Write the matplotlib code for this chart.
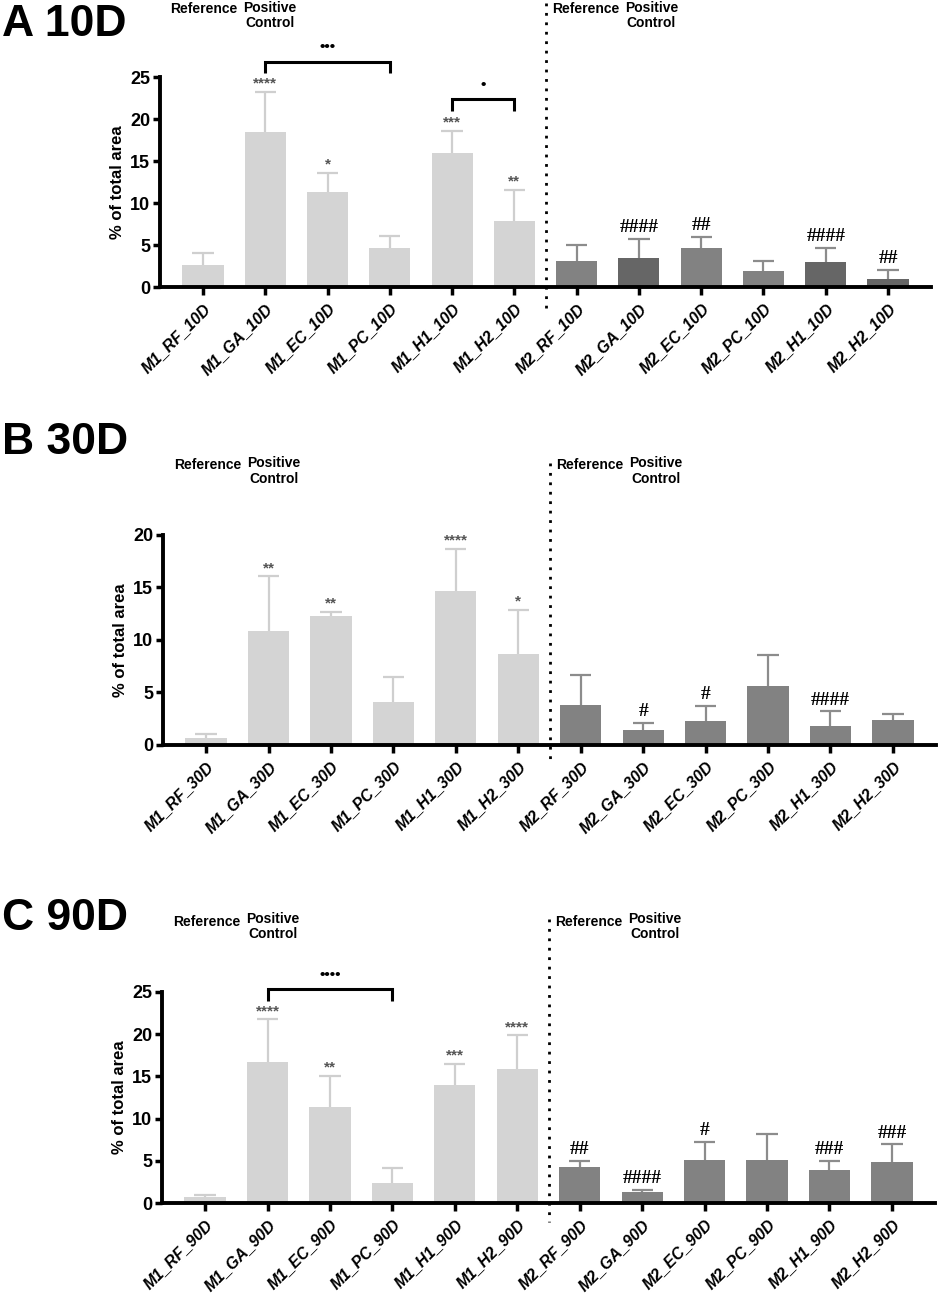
import matplotlib
matplotlib.use('Agg')
import matplotlib.pyplot as plt
import matplotlib.transforms as mtransforms
import numpy as np

plt.rcParams['font.family'] = ['Liberation Sans', 'DejaVu Sans']

# ---- data ----
labels_10 = ['M1_RF_10D', 'M1_GA_10D', 'M1_EC_10D', 'M1_PC_10D', 'M1_H1_10D', 'M1_H2_10D',
             'M2_RF_10D', 'M2_GA_10D', 'M2_EC_10D', 'M2_PC_10D', 'M2_H1_10D', 'M2_H2_10D']
mean_10 = [2.65, 18.4, 11.3, 4.6, 16.0, 7.8, 3.05, 3.45, 4.65, 1.95, 2.95, 1.0]
top_10 = [4.05, 23.2, 13.6, 6.05, 18.6, 11.6, 4.95, 5.7, 6.0, 3.15, 4.65, 2.0]
sig_10 = ['', '****', '*', '', '***', '**', '', '####', '##', '', '####', '##']

labels_30 = ['M1_RF_30D', 'M1_GA_30D', 'M1_EC_30D', 'M1_PC_30D', 'M1_H1_30D', 'M1_H2_30D',
             'M2_RF_30D', 'M2_GA_30D', 'M2_EC_30D', 'M2_PC_30D', 'M2_H1_30D', 'M2_H2_30D']
mean_30 = [0.63, 10.85, 12.25, 4.1, 14.7, 8.7, 3.85, 1.4, 2.25, 5.6, 1.8, 2.35]
top_30 = [1.0, 16.05, 12.65, 6.5, 18.65, 12.9, 6.7, 2.1, 3.7, 8.55, 3.2, 2.95]
sig_30 = ['', '**', '**', '', '****', '*', '', '#', '#', '', '####', '']

labels_90 = ['M1_RF_90D', 'M1_GA_90D', 'M1_EC_90D', 'M1_PC_90D', 'M1_H1_90D', 'M1_H2_90D',
             'M2_RF_90D', 'M2_GA_90D', 'M2_EC_90D', 'M2_PC_90D', 'M2_H1_90D', 'M2_H2_90D']
mean_90 = [0.67, 16.7, 11.35, 2.35, 14.0, 15.85, 4.25, 1.3, 5.15, 5.05, 3.95, 4.8]
top_90 = [0.95, 21.75, 15.05, 4.1, 16.5, 19.85, 5.0, 1.55, 7.2, 8.15, 5.0, 6.95]
sig_90 = ['', '****', '**', '', '***', '****', '##', '####', '#', '', '###', '###']

# brackets: (left bar, right bar, height, label)
brackets_10 = [(1, 3, 26.8, '•••'), (4, 5, 22.35, '•')]
brackets_30 = []
brackets_90 = [(1, 3, 25.3, '••••')]

LIGHT = '#d4d4d4'
MID = '#828282'
DARK = '#666666'
colors_10 = [LIGHT] * 6 + [MID, DARK, MID, MID, DARK, DARK]
colors_30 = [LIGHT] * 6 + [MID] * 6
colors_90 = [LIGHT] * 6 + [MID] * 6


def draw_panel(ax, labels, means, tops, sigs, colors, brackets, ymax, dot_top, dot_bot, head_y):
    x = np.arange(len(labels))
    means = np.array(means)
    tops = np.array(tops)
    ax.bar(x, means, width=0.66, color=colors, edgecolor='none', zorder=2)
    err_cols = ['#cfcfcf'] * 6 + ['#8c8c8c'] * 6
    # upper error bars only
    ax.vlines(x, means, tops, colors=err_cols, lw=1.6, zorder=1)
    ax.hlines(tops, x - 0.17, x + 0.17, colors=err_cols, lw=1.6, zorder=1)
    for i, s in enumerate(sigs):
        if not s:
            continue
        if s.startswith('#'):
            ax.annotate(s, (x[i], tops[i]), xytext=(0, 2), textcoords='offset points',
                        ha='center', va='bottom', fontsize=14, fontweight='bold',
                        family=['Liberation Serif', 'DejaVu Serif'], color='black')
        else:
            ax.annotate(s, (x[i], tops[i]), xytext=(0, 6), textcoords='offset points',
                        ha='center', va='center', fontsize=11, fontweight='bold', color='#555555')
    drop = ymax * 0.055
    for a, b, h, txt in brackets:
        ax.plot([a, a, b, b], [h - drop, h, h, h - drop], color='black', lw=2.2,
                clip_on=False, solid_capstyle='butt', solid_joinstyle='miter')
        ax.text((a + b) / 2, h + ymax * 0.07, txt, ha='center', va='center',
                fontsize=11, fontweight='bold', color='black')

    ax.set_xlim(-0.69, 11.69)
    ax.set_ylim(0, ymax)
    ax.set_yticks(np.arange(0, ymax + 1, 5))
    ax.set_xticks(x)
    ax.set_xticklabels(labels, rotation=45, ha='right', rotation_mode='anchor',
                       fontsize=11.5, fontweight='bold', fontstyle='italic')
    for lab in ax.get_yticklabels():
        lab.set_fontweight('bold')
    ax.tick_params(axis='y', labelsize=13, width=2.5, length=5, pad=2)
    ax.tick_params(axis='x', width=2.5, length=6, pad=4)
    for sp in ['top', 'right']:
        ax.spines[sp].set_visible(False)
    for sp in ['left', 'bottom']:
        ax.spines[sp].set_linewidth(2.8)
    ax.set_ylabel('% of total area', fontsize=12, fontweight='bold', labelpad=4)

    # dotted separator between the two groups
    trans = mtransforms.blended_transform_factory(ax.transData, ax.transAxes)
    ax.plot([5.5, 5.5], [dot_top, dot_bot], transform=trans, color='black', lw=2,
            linestyle=(0, (1, 2.4)), clip_on=False)

    # group headers
    y_ref, y_pos, y_ctl = head_y
    for xh in [0.02, 6.15]:
        ax.text(xh, y_ref, 'Reference', transform=trans, ha='center', va='center',
                fontsize=10, fontweight='bold')
    for xh in [1.08, 7.2]:
        ax.text(xh, y_pos, 'Positive', transform=trans, ha='center', va='center',
                fontsize=10, fontweight='bold')
        ax.text(xh, y_ctl, 'Control', transform=trans, ha='center', va='center',
                fontsize=10, fontweight='bold')


fig = plt.figure(figsize=(9.41, 12.94), dpi=100)
W, H = 941.0, 1294.0
axA = fig.add_axes([160 / W, 1 - 287 / H, 771 / W, 210 / H])
axB = fig.add_axes([163 / W, 1 - 745 / H, 773 / W, 210 / H])
axC = fig.add_axes([162 / W, 1 - 1203 / H, 773 / W, 211 / H])

draw_panel(axA, labels_10, mean_10, top_10, sig_10, colors_10, brackets_10, 25, 1.352, -0.11,
           (1.322, 1.330, 1.255))
draw_panel(axB, labels_30, mean_30, top_30, sig_30, colors_30, brackets_30, 20, 1.343, -0.095,
           (1.333, 1.343, 1.267))
draw_panel(axC, labels_90, mean_90, top_90, sig_90, colors_90, brackets_90, 25, 1.346, -0.09,
           (1.332, 1.346, 1.275))

for title, yc in [('A 10D', 24), ('B 30D', 442), ('C 90D', 919)]:
    fig.text(2 / W, 1 - yc / H, title, ha='left', va='center', fontsize=32, fontweight='bold')

fig.savefig('out.png', dpi=100)
